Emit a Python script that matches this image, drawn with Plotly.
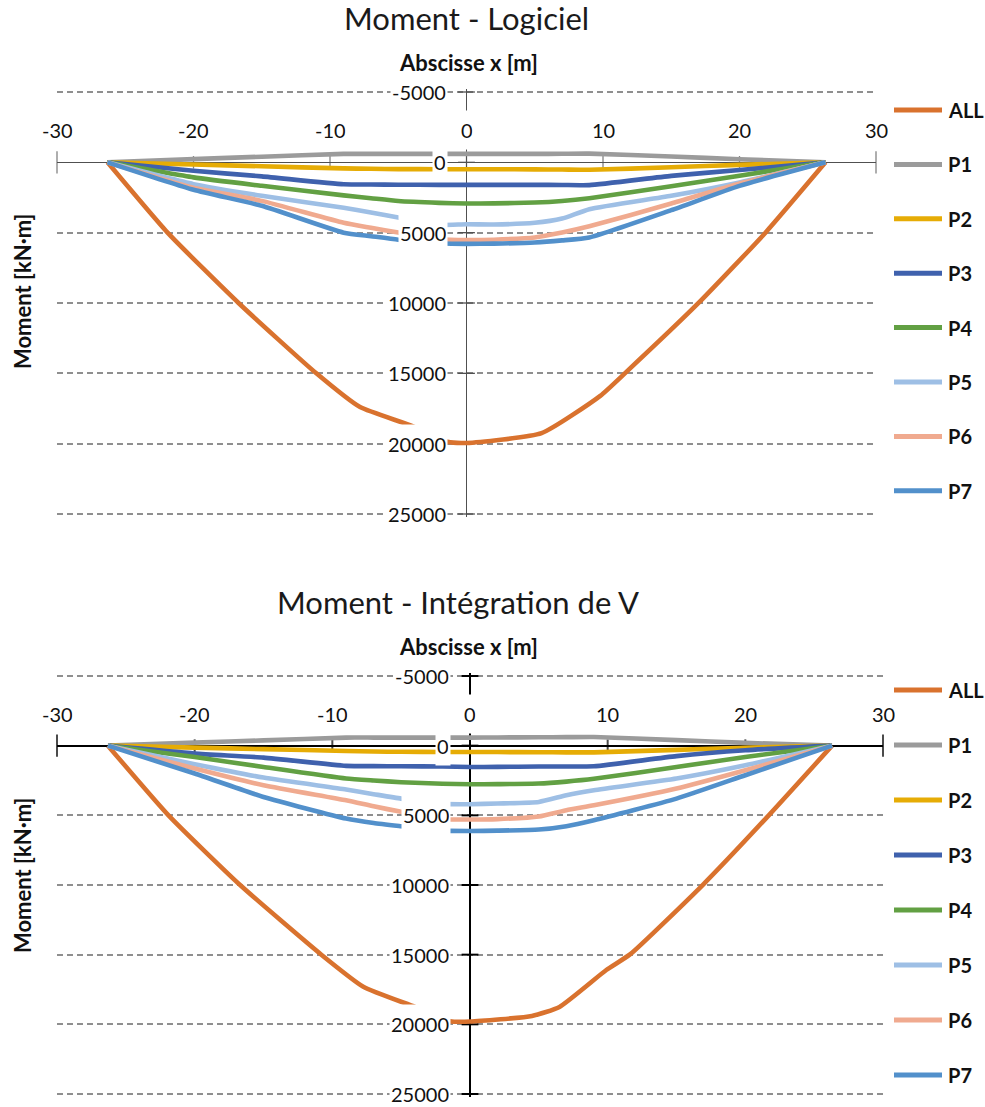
import plotly.graph_objects as go

# ---------------- data ----------------
series_names = ["ALL", "P1", "P2", "P3", "P4", "P5", "P6", "P7"]
series_colors = ["#D9722E", "#9B9B9B", "#E6AC05", "#3F61AD", "#62A043",
                 "#9EBFE5", "#F0AA8F", "#5290CB"]

x_ticks = [-30, -20, -10, 0, 10, 20, 30]
y_ticks = [-5000, 0, 5000, 10000, 15000, 20000, 25000]

# abscissa of the load-case curves (m)
x_pts = [-26.3, -20, -15, -9, -7, -5, -2, 0, 2, 5, 7, 9, 15, 20, 26.3]

# ---- Chart 1 : Moment - Logiciel ----
x_all_top = [-26.3, -21.9, -16.7, -11.0, -7.8, -4.1, -1.4, 0, 5.5, 9.8, 11.6, 17.0, 21.9, 26.3]
all_top = [0, 5000, 10000, 15000, 17400, 18700, 19870, 19950, 19250, 16600, 15000, 10000, 5000, 0]
p1_top = [0, -230, -400, -600, -600, -600, -600, -600, -600, -600, -610, -620, -420, -220, 0]
p2_top = [0, 150, 280, 430, 460, 480, 490, 490, 490, 500, 510, 530, 350, 180, 0]
p3_top = [0, 600, 1000, 1560, 1580, 1590, 1600, 1600, 1600, 1600, 1610, 1620, 960, 550, 0]
p4_top = [0, 1070, 1670, 2350, 2550, 2750, 2880, 2930, 2920, 2860, 2750, 2550, 1700, 950, 0]
p5_top = [0, 1550, 2380, 3230, 3560, 3920, 4450, 4400, 4420, 4300, 4000, 3330, 2380, 1430, 0]
p6_top = [0, 1800, 2740, 4300, 4650, 4990, 5450, 5530, 5500, 5340, 4990, 4550, 2930, 1500, 0]
p7_top = [0, 1950, 3090, 5000, 5250, 5500, 5750, 5800, 5780, 5700, 5550, 5340, 3400, 1670, 0]

# ---- Chart 2 : Moment - Intégration de V ----
x_all_bot = [-26.3, -21.9, -16.7, -10.8, -7.75, -4.0, -1.45, 0, 4.5, 6.5, 9.9, 11.6, 16.9, 21.7, 26.3]
all_bot = [0, 5000, 10000, 15000, 17300, 18750, 19770, 19800, 19400, 18750, 16100, 15000, 10000, 5000, 0]
p1_bot = [0, -220, -380, -580, -580, -580, -580, -580, -590, -600, -610, -620, -400, -200, 0]
p2_bot = [0, 140, 250, 380, 420, 440, 450, 450, 460, 470, 480, 480, 300, 150, 0]
p3_bot = [0, 570, 860, 1450, 1470, 1480, 1500, 1530, 1520, 1500, 1500, 1480, 750, 330, 0]
p4_bot = [0, 810, 1530, 2360, 2500, 2620, 2730, 2770, 2760, 2720, 2580, 2380, 1530, 810, 0]
p5_bot = [0, 1330, 2290, 3150, 3480, 3800, 4180, 4200, 4150, 4040, 3560, 3200, 2360, 1410, 0]
p6_bot = [0, 1640, 2840, 3920, 4350, 4750, 5280, 5300, 5270, 5080, 4630, 4280, 3080, 1770, 0]
p7_bot = [0, 2000, 3680, 5230, 5550, 5780, 6100, 6120, 6100, 6020, 5780, 5350, 3800, 2120, 0]

titles = ["Moment - Logiciel", "Moment - Intégration de V"]
x_title = "Abscisse x [m]"
y_title = "Moment [kN·m]"

# ---------------- layout helpers ----------------
W, H = 985, 1107
FONT = "Lato"
PAD = 200   # small range padding so the end gridlines are drawn

def px_x(p):
    return p / W

def px_y(p):
    return 1 - p / H

charts = [
    dict(xa="x", ya="y", x_all=x_all_top, m_all=all_top,
         ps=[p1_top, p2_top, p3_top, p4_top, p5_top, p6_top, p7_top],
         xdom=[57, 876], ydom=[92, 514], axis_color="#505050", axis_w=1.3,
         title_x=466, title_y=18, xt_y=62, yt_y=292, leg_y0=110, leg_dy=54.4),
    dict(xa="x2", ya="y2", x_all=x_all_bot, m_all=all_bot,
         ps=[p1_bot, p2_bot, p3_bot, p4_bot, p5_bot, p6_bot, p7_bot],
         xdom=[57, 883], ydom=[676, 1094], axis_color="#000000", axis_w=2,
         title_x=458, title_y=602, xt_y=646, yt_y=876, leg_y0=690, leg_dy=55),
]

fig = go.Figure()
annotations = []
shapes = []
layout_axes = {}

for ci, c in enumerate(charts):
    xa, ya = c["xa"], c["ya"]
    # axis tick marks
    fig.add_trace(go.Scatter(
        x=x_ticks, y=[0] * len(x_ticks), xaxis=xa, yaxis=ya, mode="markers",
        marker=dict(symbol="line-ns", size=[16 if abs(v) == 30 else 9 for v in x_ticks],
                    line=dict(width=c["axis_w"], color=c["axis_color"])),
        showlegend=False, hoverinfo="skip", cliponaxis=False))
    fig.add_trace(go.Scatter(
        x=[0] * len(y_ticks), y=y_ticks, xaxis=xa, yaxis=ya, mode="markers",
        marker=dict(symbol="line-ew", size=12,
                    line=dict(width=c["axis_w"], color=c["axis_color"])),
        showlegend=False, hoverinfo="skip", cliponaxis=False))
    # series
    all_series = [(c["x_all"], c["m_all"])] + [(x_pts, p) for p in c["ps"]]
    for (xs, ys), name, col in zip(all_series, series_names, series_colors):
        fig.add_trace(go.Scatter(
            x=xs, y=ys, xaxis=xa, yaxis=ya, mode="lines", name=name,
            line=dict(color=col, width=4.6, shape="spline", smoothing=0.5),
            showlegend=False))

    # tick labels with white boxes
    for v in y_ticks:
        annotations.append(dict(
            x=0, y=v, xref=xa, yref=ya, text=str(v), showarrow=False,
            xanchor="right", yanchor="middle", xshift=-19, height=36,
            bgcolor="white", borderpad=1,
            font=dict(family=FONT, size=20, color="#111")))
    for v in x_ticks:
        annotations.append(dict(
            x=v, y=0, xref=xa, yref=ya, text=str(v), showarrow=False,
            xanchor="center", yanchor="middle", yshift=32, height=36,
            bgcolor="white", borderpad=1,
            font=dict(family=FONT, size=20, color="#111")))

    # titles
    annotations.append(dict(
        x=px_x(c["title_x"]), y=px_y(c["title_y"]), xref="paper", yref="paper",
        text=titles[ci], showarrow=False, xanchor="center", yanchor="middle",
        font=dict(family=FONT, size=31, color="#1a1a1a")))
    annotations.append(dict(
        x=px_x(468), y=px_y(c["xt_y"]), xref="paper", yref="paper",
        text="<b>" + x_title + "</b>", showarrow=False, xanchor="center", yanchor="middle",
        font=dict(family=FONT, size=22, color="#111")))
    annotations.append(dict(
        x=px_x(22), y=px_y(c["yt_y"]), xref="paper", yref="paper",
        text="<b>" + y_title + "</b>", showarrow=False, textangle=-90,
        xanchor="center", yanchor="middle",
        font=dict(family=FONT, size=22, color="#111")))

    # legend
    for i, (name, col) in enumerate(zip(series_names, series_colors)):
        yy = px_y(c["leg_y0"] + i * c["leg_dy"])
        shapes.append(dict(type="line", xref="paper", yref="paper",
                           x0=px_x(894), x1=px_x(942), y0=yy, y1=yy,
                           line=dict(color=col, width=5)))
        annotations.append(dict(
            x=px_x(946), y=yy, xref="paper", yref="paper", text="<b>" + name + "</b>",
            showarrow=False, xanchor="left", yanchor="middle",
            font=dict(family=FONT, size=20, color="#111")))

    # pixel extent of the padding on the y axis
    span_px = c["ydom"][1] - c["ydom"][0]
    pad_px = PAD * span_px / 30000.0
    sfx = "" if ci == 0 else "2"
    layout_axes["xaxis" + sfx] = dict(
        domain=[px_x(c["xdom"][0]), px_x(c["xdom"][1])], range=[-30, 30],
        anchor=ya, showgrid=False, showticklabels=False, ticks="",
        zeroline=True, zerolinecolor=c["axis_color"], zerolinewidth=c["axis_w"],
        showline=False, fixedrange=True)
    layout_axes["yaxis" + sfx] = dict(
        domain=[px_y(c["ydom"][1] + pad_px), px_y(c["ydom"][0] - pad_px)],
        range=[25000 + PAD, -5000 - PAD],
        anchor=xa, tickvals=y_ticks, showticklabels=False, ticks="",
        showgrid=True, gridcolor="#8f8f8f", gridwidth=1.8, griddash="6px,4px",
        zeroline=True, zerolinecolor=c["axis_color"], zerolinewidth=c["axis_w"],
        showline=False, fixedrange=True)

fig.update_layout(
    width=W, height=H, margin=dict(l=0, r=0, t=0, b=0),
    paper_bgcolor="white", plot_bgcolor="white",
    showlegend=False, annotations=annotations, shapes=shapes,
    font=dict(family=FONT), **layout_axes)

fig.write_html("out.html")
